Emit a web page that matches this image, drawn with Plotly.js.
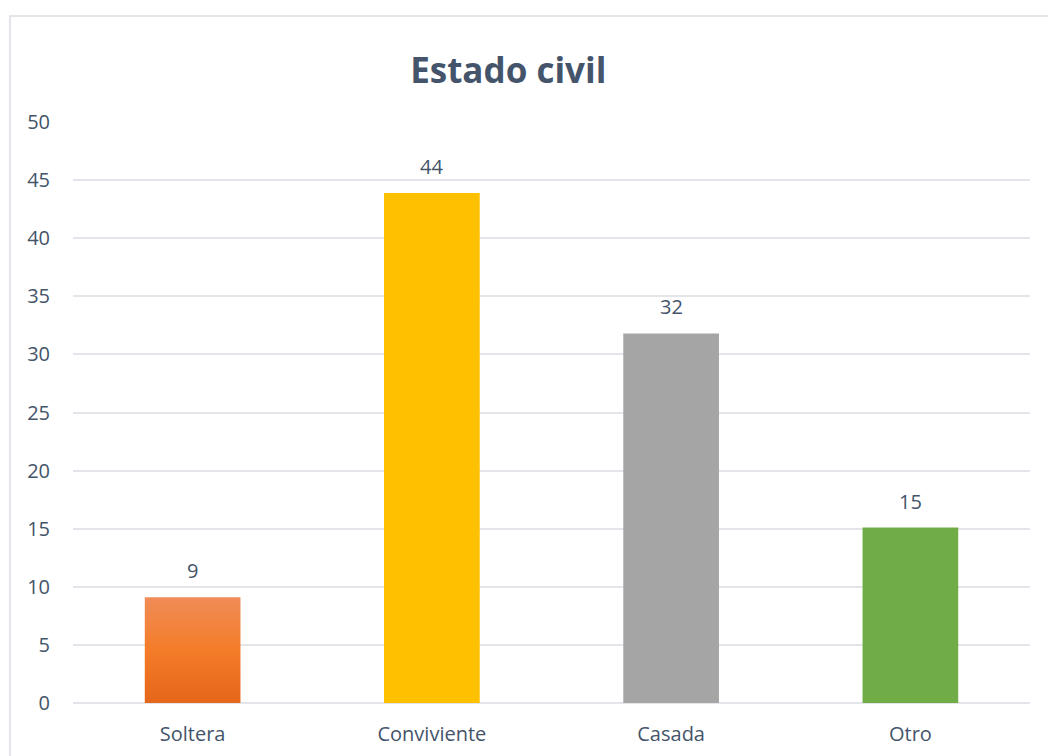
<!DOCTYPE html>
<html><head><meta charset="utf-8">
<script src="https://cdn.plot.ly/plotly-3.0.1.min.js"></script>
<style>
html,body{margin:0;padding:0;background:#fff;}
#wrap{position:relative;width:1048px;height:756px;overflow:hidden;}
#chart{position:absolute;left:0;top:0;width:1048px;height:756px;}
#border{position:absolute;left:9px;top:15px;width:1100px;height:800px;border:2px solid #E3E5EA;pointer-events:none;}
</style></head>
<body>
<div id="wrap"><div id="chart"></div><div id="border"></div></div>
<script>
const categories = ["Soltera", "Conviviente", "Casada", "Otro"];
const values = [9.1, 43.9, 31.8, 15.1];
const labels = ["9", "44", "32", "15"];
const colors = ["#F07A2A", "#FFC000", "#A5A5A5", "#70AD47"];
const yTicks = [0, 5, 10, 15, 20, 25, 30, 35, 40, 45, 50];

const textColor = "#44546A";
const fontFam = "Open Sans, Noto Sans, sans-serif";
const trace = {
  type: "bar",
  x: categories,
  y: values,
  marker: {color: colors, line: {width: 0}},
  hoverinfo: "skip"
};
const annotations = categories.map((c, i) => ({
  x: c, y: values[i], text: labels[i], showarrow: false,
  yanchor: "bottom", yshift: 11,
  font: {family: fontFam, size: 20, color: textColor}
}));
const layout = {
  width: 1048, height: 756,
  margin: {l: 73, r: 18, t: 122, b: 53},
  paper_bgcolor: "rgba(0,0,0,0)", plot_bgcolor: "#fff",
  showlegend: false,
  bargap: 0.6,
  title: {text: "<b>Estado civil</b>", x: 0.485, xanchor: "center", y: 0.907, yanchor: "middle",
    font: {family: fontFam, size: 35, color: textColor}},
  xaxis: {
    showgrid: false, showline: false, zeroline: false, ticks: "",
    tickfont: {family: fontFam, size: 20, color: textColor},
    ticklabelstandoff: 17
  },
  yaxis: {
    range: [0, 50], tickvals: yTicks, ticktext: yTicks.map(String),
    showgrid: true, gridcolor: "#E3E5EA", gridwidth: 2,
    zeroline: true, zerolinecolor: "#E3E5EA", zerolinewidth: 2,
    showline: false, ticks: "",
    tickfont: {family: fontFam, size: 20, color: textColor},
    ticklabelstandoff: 22
  },
  annotations: annotations
};
Plotly.newPlot("chart", [trace], layout, {displayModeBar: false, staticPlot: true}).then(gd => {
  const svg = gd.querySelector("svg.main-svg");
  const ns = "http://www.w3.org/2000/svg";
  let defs = svg.querySelector("defs");
  if (!defs) { defs = document.createElementNS(ns, "defs"); svg.insertBefore(defs, svg.firstChild); }
  const grad = document.createElementNS(ns, "linearGradient");
  grad.setAttribute("id", "solteraGrad");
  grad.setAttribute("x1", "0"); grad.setAttribute("y1", "0");
  grad.setAttribute("x2", "0"); grad.setAttribute("y2", "1");
  [["0", "#F08C57"], ["0.5", "#F47C29"], ["1", "#E4661A"]].forEach(([o, c]) => {
    const s = document.createElementNS(ns, "stop");
    s.setAttribute("offset", o); s.setAttribute("stop-color", c);
    grad.appendChild(s);
  });
  defs.appendChild(grad);
  const bar = gd.querySelector(".barlayer .point path");
  if (bar) { bar.style.fill = "url(#solteraGrad)"; }
});
</script>
</body></html>
